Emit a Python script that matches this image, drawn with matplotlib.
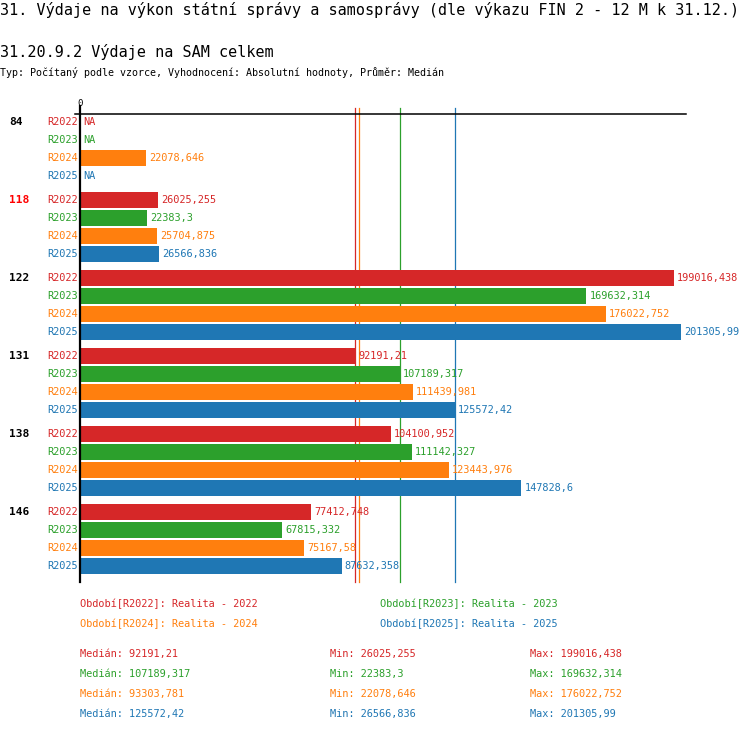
import numpy as np
from decimal import Decimal, ROUND_HALF_UP
import matplotlib
matplotlib.use('Agg')
from matplotlib import pyplot as plt
from matplotlib import transforms

# data
categories = ['84', '118', '122', '131', '138', '146']
highlight = '118'
series = ['R2022', 'R2023', 'R2024', 'R2025']
r2022 = [None, 26025.255, 199016.438, 92191.21, 104100.952, 77412.748]
r2023 = [None, 22383.3, 169632.314, 107189.317, 111142.327, 67815.332]
r2024 = [22078.646, 25704.875, 176022.752, 111439.981, 123443.976, 75167.58]
r2025 = [None, 26566.836, 201305.99, 125572.42, 147828.6, 87632.358]
legend_labels = ['Období[R2022]: Realita - 2022', 'Období[R2023]: Realita - 2023',
                 'Období[R2024]: Realita - 2024', 'Období[R2025]: Realita - 2025']
colors = ['#d62728', '#2ca02c', '#ff7f0e', '#1f77b4']

title = '31. Výdaje na výkon státní správy a samosprávy (dle výkazu FIN 2 - 12 M k 31.12.)'
subtitle = '31.20.9.2 Výdaje na SAM celkem'
info = 'Typ: Počítaný podle vzorce, Vyhodnocení: Absolutní hodnoty, Průměr: Medián'

data = [r2022, r2023, r2024, r2025]

plt.rcParams['font.family'] = ['DejaVu Sans Mono']
FS = 7.4

W, H = 750, 732
fig = plt.figure(figsize=(W / 100, H / 100), dpi=100)


def fmt(v):
    d = Decimal(str(v)).quantize(Decimal('0.001'), rounding=ROUND_HALF_UP)
    s = format(d, 'f').rstrip('0').rstrip('.')
    return s.replace('.', ',')


def dmedian(vals):
    v = sorted(Decimal(str(x)) for x in vals if x is not None)
    n = len(v)
    if n % 2:
        return v[n // 2]
    return (v[n // 2 - 1] + v[n // 2]) / 2


# header
fig.text(0, 1 - 10 / H, title, fontsize=10.9, va='center', ha='left')
fig.text(0, 1 - 52 / H, subtitle, fontsize=10.9, va='center', ha='left')
fig.text(0, 1 - 73 / H, info, fontsize=7.2, va='center', ha='left')

# main axes: x=0 at px 80, top at px 114
ax = fig.add_axes([80 / W, 150 / H, 606 / W, 468 / H])
ax.set_xlim(0, 201305.99 * 606 / 601)
step = 4 + 6 / 18
ax.set_ylim(26 - 8 / 18, -8 / 18)
ax.axis('off')

off_r = transforms.offset_copy(ax.transData, fig=fig, x=3, y=0, units='dots')
off_l = transforms.offset_copy(ax.transData, fig=fig, x=-2, y=0, units='dots')
cat_tr = transforms.blended_transform_factory(fig.transFigure, ax.transData)

for g, cat in enumerate(categories):
    y0 = g * step
    ax.text(9 / W, y0, cat, transform=cat_tr, fontsize=8, fontweight='bold',
            color='#ff0000' if cat == highlight else 'black', va='center', ha='left')
    for r, (name, vals, c) in enumerate(zip(series, data, colors)):
        y = y0 + r
        v = vals[g]
        ax.text(0, y, name, transform=off_l, fontsize=FS, color=c, va='center', ha='right')
        if v is None:
            ax.text(0, y, 'NA', transform=off_r, fontsize=FS, color=c, va='center', ha='left')
        else:
            ax.barh(y, v, height=16 / 18, color=c, zorder=2)
            ax.text(v, y, fmt(v), transform=off_r, fontsize=FS, color=c, va='center',
                    ha='left', zorder=3)

# median lines (behind the bars)
medians = [dmedian(vals) for vals in data]
for m, c in zip(medians, colors):
    ax.axvline(float(m), ymin=0, ymax=1 + 6 / 468, color=c, lw=0.9, clip_on=False, zorder=1)

# axis lines
ax.axvline(0, ymin=0, ymax=1 + 8 / 468, color='black', lw=1.6, clip_on=False, zorder=4)
ax.axhline(-8 / 18, xmin=-5 / 606, xmax=1, color='black', lw=1.1, clip_on=False, zorder=4)
fig.text(80 / W, 1 - 103 / H, '0', fontsize=6.5, ha='center', va='center')

# legend
for i, (lab, c) in enumerate(zip(legend_labels, colors)):
    x = 80 if i % 2 == 0 else 380
    y = 604 + 20 * (i // 2)
    fig.text(x / W, 1 - y / H, lab, fontsize=FS, color=c, va='center', ha='left')

# statistics
for i, (vals, m, c) in enumerate(zip(data, medians, colors)):
    y = 1 - (654 + 20 * i) / H
    present = [v for v in vals if v is not None]
    fig.text(80 / W, y, 'Medián: ' + fmt(m), fontsize=FS, color=c, va='center')
    fig.text(330 / W, y, 'Min: ' + fmt(min(present)), fontsize=FS, color=c, va='center')
    fig.text(530 / W, y, 'Max: ' + fmt(max(present)), fontsize=FS, color=c, va='center')

fig.savefig('out.png', dpi=100)
